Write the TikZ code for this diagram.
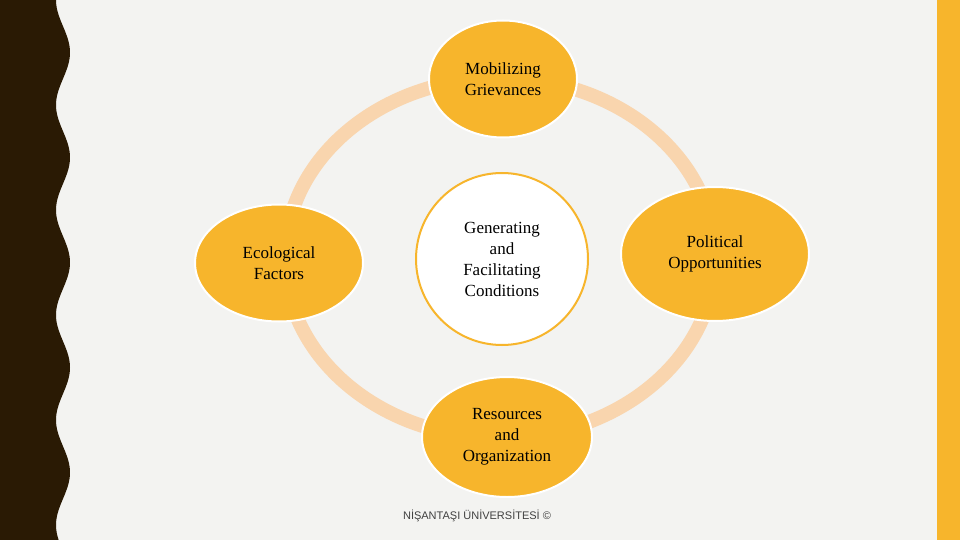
\documentclass[tikz,border=0pt]{standalone}
\usetikzlibrary{shapes.geometric}
\usepackage{fontspec}
\setmainfont{Liberation Serif}
\setsansfont{Liberation Sans}
\definecolor{bg}{HTML}{F3F3F1}
\definecolor{dark}{HTML}{2A1A04}
\definecolor{gold}{HTML}{F7B52C}
\definecolor{ring}{HTML}{F9D5AE}
\begin{document}
\begin{tikzpicture}[x=1pt,y=-1pt,
  bub/.style={ellipse,fill=gold,draw=white,line width=2pt,inner sep=0pt,align=center,font=\fontsize{17}{21}\selectfont},
  ]
\useasboundingbox (0,0) rectangle (960,540);
\fill[bg] (0,0) rectangle (960,540);
\fill[gold] (937,0) rectangle (960,540);
\fill[dark] (0,0) -- plot[domain=0:540,samples=220] ({63-7*cos(3.42857*\x)},\x) -- (0,540) -- cycle;
\draw[ring,line width=14pt] (500,258) ellipse [x radius=215, y radius=180];
\node[bub,circle,minimum size=172pt,fill=white,draw=gold] (c) at (502,259) {Generating\\and\\Facilitating\\Conditions};
\node[bub,minimum width=148pt,minimum height=117pt] (t) at (503,79) {Mobilizing\\Grievances};
\node[bub,minimum width=168pt,minimum height=117pt] (l) at (279,263) {Ecological\\Factors};
\node[bub,minimum width=188pt,minimum height=134pt] (r) at (715,254) {Political\\Opportunities};
\node[bub,minimum width=170pt,minimum height=120pt] (b) at (507,437) {Resources\\and\\Organization};
\node[font=\sffamily\fontsize{11}{13}\selectfont,text=black!75] (f) at (477,516) {NİŞANTAŞI ÜNİVERSİTESİ ©};
\end{tikzpicture}
\end{document}
